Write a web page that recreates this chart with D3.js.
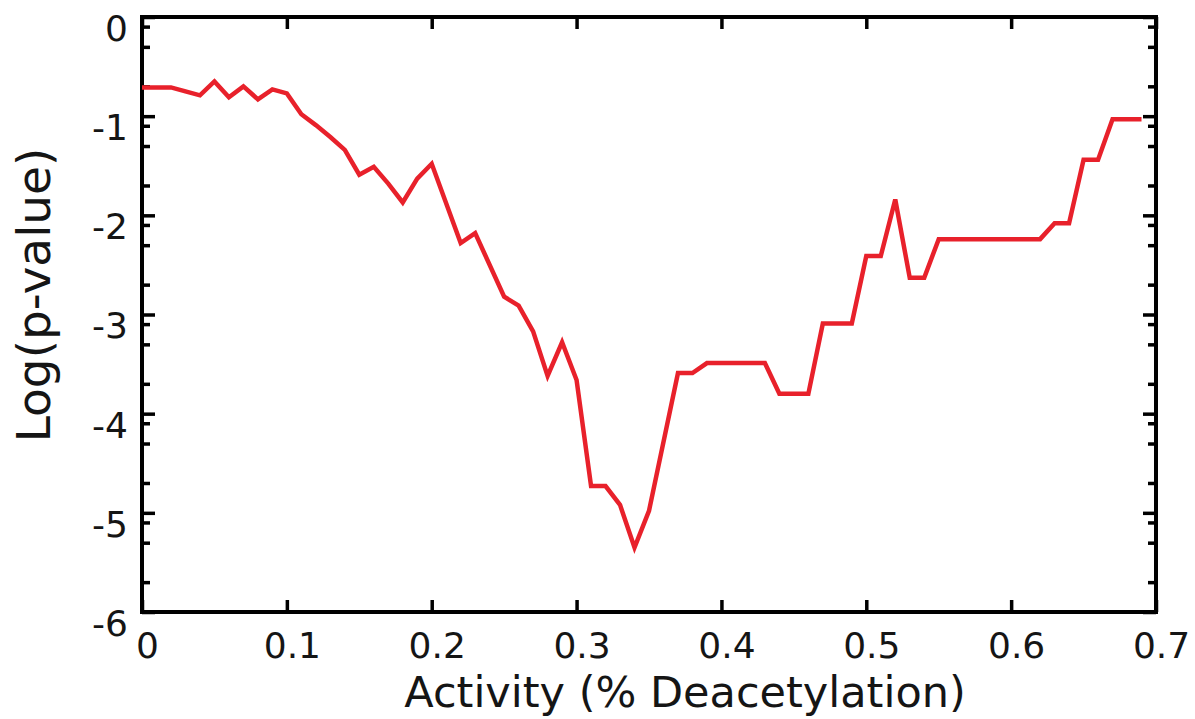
<!DOCTYPE html>
<html><head><meta charset="utf-8">
<script src="https://cdn.jsdelivr.net/npm/d3@7"></script>
<style>body{margin:0;background:#fff}svg text{font-family:"DejaVu Sans",sans-serif;fill:#151515}</style>
</head><body><svg id="c" width="1195" height="719"></svg>
<script>
const xs = [0,0.02,0.03,0.04,0.05,0.06,0.07,0.08,0.09,0.10,0.11,0.12,0.13,0.14,0.15,0.16,0.17,0.18,0.19,0.20,0.22,0.23,0.25,0.26,0.27,0.28,0.29,0.30,0.31,0.32,0.33,0.34,0.35,0.37,0.38,0.39,0.43,0.44,0.46,0.47,0.49,0.50,0.51,0.52,0.53,0.54,0.55,0.62,0.63,0.64,0.65,0.66,0.67,0.69];
const ys = [-0.71,-0.71,-0.75,-0.79,-0.65,-0.81,-0.70,-0.83,-0.73,-0.77,-0.98,-1.09,-1.21,-1.34,-1.59,-1.51,-1.68,-1.87,-1.63,-1.48,-2.28,-2.18,-2.82,-2.91,-3.17,-3.62,-3.28,-3.66,-4.73,-4.73,-4.92,-5.35,-4.98,-3.59,-3.59,-3.49,-3.49,-3.80,-3.80,-3.09,-3.09,-2.41,-2.41,-1.84,-2.63,-2.63,-2.24,-2.24,-2.08,-2.08,-1.44,-1.44,-1.03,-1.03];
const xTicks = [0,0.1,0.2,0.3,0.4,0.5,0.6,0.7];
const xTickLabels = ["0","0.1","0.2","0.3","0.4","0.5","0.6","0.7"];
const yTicks = [0,-1,-2,-3,-4,-5,-6];
const yTickLabels = ["0","-1","-2","-3","-4","-5","-6"];
const xTitle = "Activity (% Deacetylation)";
const yTitle = "Log(p-value)";

const svg = d3.select("#c");
const L=142,R=1156,T=17,B=612;
const x = d3.scaleLinear().domain([0,0.7]).range([L,R]);
const y = d3.scaleLinear().domain([0,-6]).range([T,B]);
const minor = [];
for (let k=0;k<6;k++){ for (const m of [0.8,0.5,0.2]) minor.push(-k+Math.log10(m)); }

function style(g){ g.select(".domain").remove(); g.selectAll("line").attr("stroke","#000").attr("stroke-width",3.5); }

// left
const gl = svg.append("g").attr("transform",`translate(${L},0)`)
  .call(d3.axisLeft(y).tickValues(yTicks).tickFormat((d,i)=>yTickLabels[i]).tickSizeInner(-13).tickSizeOuter(0).tickPadding(15));
style(gl);
gl.selectAll("text").attr("font-size",36).attr("dy","0.65em").attr("x",-14);
svg.append("g").attr("transform",`translate(${L},0)`).call(d3.axisLeft(y).tickValues(minor).tickFormat("").tickSizeInner(-8).tickSizeOuter(0)).call(style);
// right
svg.append("g").attr("transform",`translate(${R},0)`).call(d3.axisRight(y).tickValues(yTicks).tickFormat("").tickSizeInner(-13).tickSizeOuter(0)).call(style);
svg.append("g").attr("transform",`translate(${R},0)`).call(d3.axisRight(y).tickValues(minor).tickFormat("").tickSizeInner(-8).tickSizeOuter(0)).call(style);
// bottom
const gb = svg.append("g").attr("transform",`translate(0,${B})`)
  .call(d3.axisBottom(x).tickValues(xTicks).tickFormat((d,i)=>xTickLabels[i]).tickSizeInner(-12).tickSizeOuter(0).tickPadding(20));
style(gb);
gb.selectAll("text").attr("font-size",36).attr("dx",5);
// top
svg.append("g").attr("transform",`translate(0,${T})`).call(d3.axisTop(x).tickValues(xTicks).tickFormat("").tickSizeInner(-12).tickSizeOuter(0)).call(style);

// frame
svg.append("rect").attr("x",L).attr("y",T).attr("width",R-L).attr("height",B-T)
  .attr("fill","none").attr("stroke","#000").attr("stroke-width",4);

// line
const data = xs.map((v,i)=>[v,ys[i]]);
svg.append("path").datum(data).attr("fill","none").attr("stroke","#e8212b").attr("stroke-width",4.5)
  .attr("stroke-linejoin","miter").attr("d",d3.line().x(d=>x(d[0])).y(d=>y(d[1])));

// titles
svg.append("text").attr("x",685).attr("y",707).attr("text-anchor","middle").attr("font-size",43).text(xTitle);
svg.append("text").attr("transform","translate(50,295) rotate(-90)").attr("text-anchor","middle").attr("font-size",47).text(yTitle);
</script></body></html>
